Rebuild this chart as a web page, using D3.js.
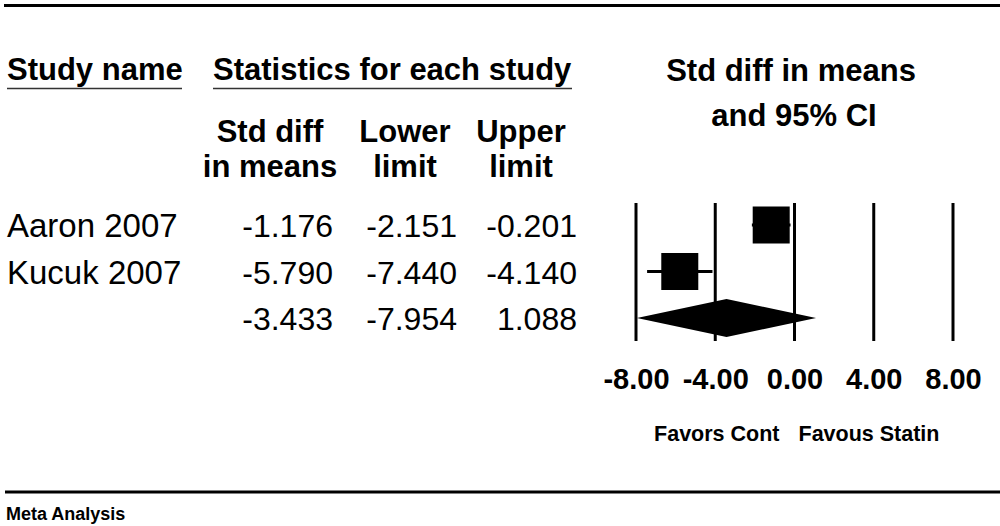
<!DOCTYPE html>
<html>
<head>
<meta charset="utf-8">
<script src="https://cdn.jsdelivr.net/npm/d3@7"></script>
<style>
html,body{margin:0;padding:0;background:#fff;}
svg{display:block;}
text{font-family:"Liberation Sans",Arial,sans-serif;fill:#000;}
</style>
</head>
<body>
<svg id="chart" width="1000" height="526"></svg>
<script>
const studies = ["Aaron 2007", "Kucuk 2007", ""];
const effect = [-1.176, -5.790, -3.433];
const lower = [-2.151, -7.440, -7.954];
const upper = [-0.201, -4.140, 1.088];
const isSummary = [false, false, true];
const tickValues = [-8, -4, 0, 4, 8];
const colHeaders = [["Std diff", "in means"], ["Lower", "limit"], ["Upper", "limit"]];

const svg = d3.select("#chart");
const x = d3.scaleLinear().domain([-8, 8]).range([636, 953]);
const y = d3.scalePoint().domain(d3.range(studies.length)).range([225, 318]);
const fmt = v => v.toFixed(2);

// top & bottom rules
svg.append("line").attr("x1", 4).attr("x2", 1000).attr("y1", 5.5).attr("y2", 5.5)
  .attr("stroke", "#000").attr("stroke-width", 3.2);
svg.append("line").attr("x1", 5).attr("x2", 1000).attr("y1", 492).attr("y2", 492)
  .attr("stroke", "#000").attr("stroke-width", 3);

// headers
svg.append("text").attr("x", 7).attr("y", 80).attr("font-size", 31).attr("font-weight", "bold").text("Study name");
svg.append("line").attr("x1", 7).attr("x2", 182).attr("y1", 88.5).attr("y2", 88.5).attr("stroke", "#333").attr("stroke-width", 1.5);
svg.append("text").attr("x", 213).attr("y", 80).attr("font-size", 31).attr("font-weight", "bold").text("Statistics for each study");
svg.append("line").attr("x1", 213).attr("x2", 572).attr("y1", 88.5).attr("y2", 88.5).attr("stroke", "#333").attr("stroke-width", 1.5);

svg.append("text").attr("x", 791).attr("y", 81).attr("text-anchor", "middle").attr("font-size", 31).attr("font-weight", "bold").text("Std diff in means");
svg.append("text").attr("x", 794).attr("y", 126).attr("text-anchor", "middle").attr("font-size", 31).attr("font-weight", "bold").text("and 95% CI");

const colCenters = [270, 405, 521];
const colRights = [333, 457, 577];
colHeaders.forEach((h, i) => {
  h.forEach((line, j) => {
    svg.append("text").attr("x", colCenters[i]).attr("y", 142 + j * 35)
      .attr("text-anchor", "middle").attr("font-size", 31).attr("font-weight", "bold").text(line);
  });
});

// table rows
const cols = [effect, lower, upper];
studies.forEach((s, i) => {
  const yy = y(i) + 12;
  svg.append("text").attr("x", 7).attr("y", yy).attr("font-size", 33).text(s);
  cols.forEach((arr, c) => {
    svg.append("text").attr("x", colRights[c]).attr("y", yy).attr("text-anchor", "end")
      .attr("font-size", 32).text(arr[i].toFixed(3));
  });
});

// grid lines
svg.append("g").selectAll("line").data(tickValues).join("line")
  .attr("x1", d => x(d)).attr("x2", d => x(d)).attr("y1", 203).attr("y2", 341)
  .attr("stroke", "#000").attr("stroke-width", 3);

// axis labels
const axis = d3.axisBottom(x).tickValues(tickValues).tickFormat(fmt).tickSize(0).tickPadding(0);
const ag = svg.append("g").attr("transform", "translate(0,368)").call(axis);
ag.select(".domain").remove();
ag.selectAll("text").attr("font-size", 29).attr("font-weight", "bold")
  .attr("font-family", "Liberation Sans, Arial, sans-serif").attr("fill", "#000").attr("dy", "0.71em");

// CI lines and squares
const idx = d3.range(studies.length).filter(i => !isSummary[i]);
svg.append("g").selectAll("line").data(idx).join("line")
  .attr("x1", i => x(lower[i])).attr("x2", i => x(upper[i]))
  .attr("y1", i => y(i)).attr("y2", i => y(i))
  .attr("stroke", "#000").attr("stroke-width", 3);
const sq = 37;
svg.append("g").selectAll("rect").data(idx).join("rect")
  .attr("x", i => x(effect[i]) - sq / 2).attr("y", i => y(i) - sq / 2)
  .attr("width", sq).attr("height", sq).attr("fill", "#000");

// summary diamond
d3.range(studies.length).filter(i => isSummary[i]).forEach(i => {
  const cy = y(i), h = 19;
  svg.append("path")
    .attr("d", `M${x(lower[i])},${cy} L${x(effect[i])},${cy - h} L${x(upper[i])},${cy} L${x(effect[i])},${cy + h} Z`)
    .attr("fill", "#000");
});

// favours labels
svg.append("text").attr("x", x(0) - 15).attr("y", 441).attr("text-anchor", "end")
  .attr("font-size", 21.5).attr("font-weight", "bold").text("Favors Cont");
svg.append("text").attr("x", x(0) + 4).attr("y", 441)
  .attr("font-size", 21.5).attr("font-weight", "bold").text("Favous Statin");

svg.append("text").attr("x", 6).attr("y", 520).attr("font-size", 18).attr("font-weight", "bold").text("Meta Analysis");
</script>
</body>
</html>
